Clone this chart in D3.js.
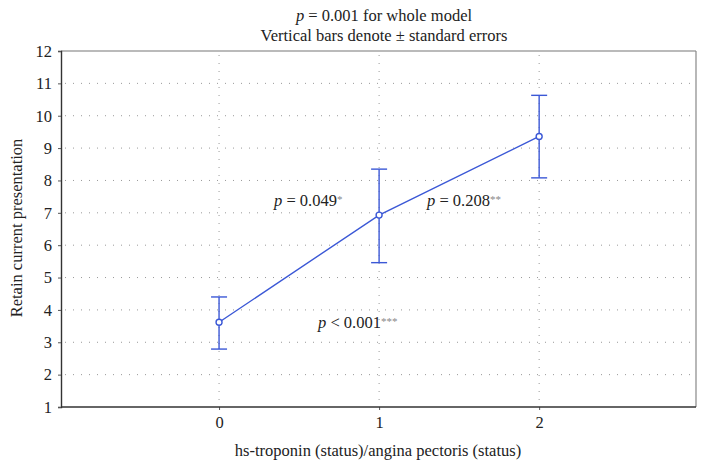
<!DOCTYPE html>
<html><head><meta charset="utf-8">
<script src="https://cdn.jsdelivr.net/npm/d3@7"></script>
<style>body{margin:0;background:#fff;} text{font-family:"Liberation Serif","DejaVu Serif",serif;}</style>
</head><body>
<svg id="c" width="707" height="470"></svg>
<script>
const categories = [0, 1, 2];
const means = [3.62, 6.93, 9.36];
const upper = [4.4, 8.35, 10.63];
const lower = [2.79, 5.46, 8.08];
const yTicks = [1,2,3,4,5,6,7,8,9,10,11,12];
const xTicks = [0,1,2];

const svg = d3.select("#c");
const L = 61, R = 696, T = 51, B = 407;
const FS = 16.5;
const x = d3.scaleLinear().domain([-0.9875, 2.98]).range([L, R]);
const y = d3.scaleLinear().domain([1, 12]).range([B, T]);
const blue = "#3b58d6";

// grid
svg.append("g").selectAll("line").data(yTicks.filter(v => v > 1 && v < 12)).join("line")
  .attr("x1", L + 4).attr("x2", R).attr("y1", d => y(d)).attr("y2", d => y(d))
  .attr("stroke", "#999").attr("stroke-width", 1).attr("stroke-dasharray", "1,7");
svg.append("g").selectAll("line").data(xTicks).join("line")
  .attr("x1", d => x(d)).attr("x2", d => x(d)).attr("y1", T + 4).attr("y2", B)
  .attr("stroke", "#999").attr("stroke-width", 1).attr("stroke-dasharray", "1,7");

// frame top/right
svg.append("line").attr("x1", L).attr("x2", R).attr("y1", T).attr("y2", T).attr("stroke", "#777").attr("stroke-width", 1.2);
svg.append("line").attr("x1", R).attr("x2", R).attr("y1", T).attr("y2", B).attr("stroke", "#888").attr("stroke-width", 1.2);

// axes
const yAxis = svg.append("g").attr("transform", `translate(${L},0)`)
  .call(d3.axisLeft(y).tickValues(yTicks).tickSize(3).tickFormat(d3.format("d")));
yAxis.select(".domain").attr("stroke", "#333").attr("stroke-width", 1.4);
yAxis.selectAll("text").attr("font-size", FS).attr("fill", "#222").attr("x", -9);
yAxis.selectAll(".tick line").attr("stroke", "#555");

const xAxis = svg.append("g").attr("transform", `translate(0,${B})`)
  .call(d3.axisBottom(x).tickValues(xTicks).tickSize(3).tickFormat(d3.format("d")));
xAxis.select(".domain").remove();
xAxis.selectAll("text").attr("font-size", FS).attr("fill", "#222").attr("y", 9);
xAxis.selectAll(".tick line").attr("stroke", "#555");
svg.append("line").attr("x1", L).attr("x2", R).attr("y1", B).attr("y2", B)
  .attr("stroke", "#333").attr("stroke-width", 1.4);

// line
const line = d3.line().x((d, i) => x(categories[i])).y(d => y(d));
svg.append("path").datum(means).attr("d", line).attr("fill", "none").attr("stroke", blue).attr("stroke-width", 1.4);

// error bars
const eb = svg.append("g").attr("stroke", blue).attr("stroke-width", 1.4);
categories.forEach((c, i) => {
  eb.append("line").attr("x1", x(c)).attr("x2", x(c)).attr("y1", y(upper[i])).attr("y2", y(lower[i]));
  eb.append("line").attr("x1", x(c) - 8).attr("x2", x(c) + 8).attr("y1", y(upper[i])).attr("y2", y(upper[i]));
  eb.append("line").attr("x1", x(c) - 8).attr("x2", x(c) + 8).attr("y1", y(lower[i])).attr("y2", y(lower[i]));
});
svg.append("g").selectAll("circle").data(means).join("circle")
  .attr("cx", (d, i) => x(categories[i])).attr("cy", d => y(d)).attr("r", 3)
  .attr("fill", "#fff").attr("stroke", blue).attr("stroke-width", 1.4);

// titles
function pText(xp, yp, rest, stars, anchor) {
  const t = svg.append("text").attr("x", xp).attr("y", yp).attr("font-size", FS).attr("fill", "#222").attr("text-anchor", anchor || "start");
  t.append("tspan").attr("font-style", "italic").text("p");
  t.append("tspan").text(rest);
  if (stars) t.append("tspan").attr("font-size", 11).attr("fill", "#888").attr("dy", -3).text(stars);
  return t;
}
pText(384, 21, " = 0.001 for whole model", "", "middle");
svg.append("text").attr("x", 384).attr("y", 41).attr("text-anchor", "middle").attr("font-size", FS).attr("fill", "#222")
  .text("Vertical bars denote ± standard errors");

pText(274, 206, " = 0.049", "*");
pText(427, 206, " = 0.208", "**");
pText(318, 328, " < 0.001", "***");

// axis labels
svg.append("text").attr("x", 378).attr("y", 456).attr("text-anchor", "middle").attr("font-size", FS).attr("fill", "#222")
  .text("hs-troponin (status)/angina pectoris (status)");
svg.append("text").attr("transform", "translate(22,228) rotate(-90)").attr("text-anchor", "middle").attr("font-size", FS).attr("fill", "#222")
  .text("Retain current presentation");
</script>
</body></html>
